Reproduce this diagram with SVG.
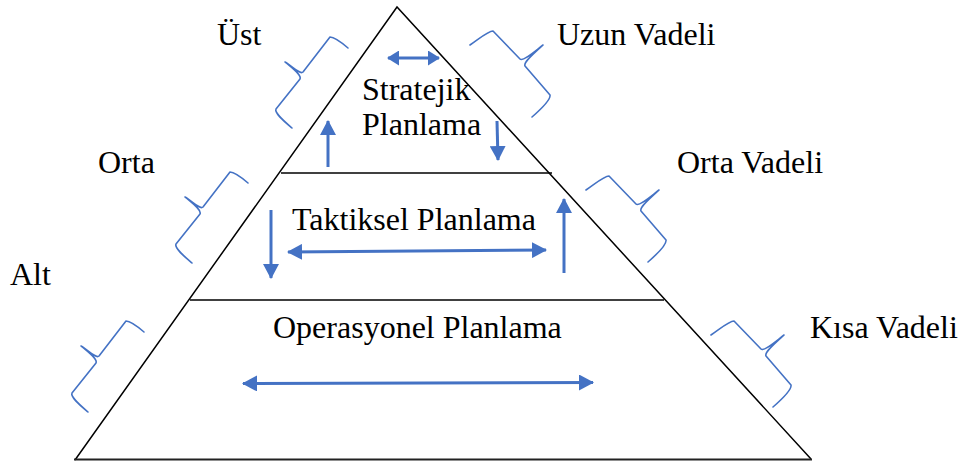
<svg xmlns="http://www.w3.org/2000/svg" width="965" height="464" viewBox="0 0 965 464">
  <style>
    .edge { fill: none; stroke: #000; stroke-width: 1.5; }
    .label { font-family: "Liberation Serif", "Times New Roman", serif; font-size: 32px; fill: #000; }
    .brace { fill: none; stroke: #4472C4; stroke-width: 1.6; stroke-linejoin: round; stroke-linecap: round; }
    .arrow { fill: none; stroke: #4472C4; stroke-width: 3; }
  </style>
  <defs>
    <marker id="head" viewBox="0 0 15 16" refX="14" refY="8" markerWidth="15" markerHeight="16" markerUnits="userSpaceOnUse" orient="auto-start-reverse">
      <path d="M0,0 L15,8 L0,16 Z" fill="#4472C4"/>
    </marker>
    <marker id="headSmall" viewBox="0 0 12 15" refX="11" refY="7.5" markerWidth="12" markerHeight="15" markerUnits="userSpaceOnUse" orient="auto-start-reverse">
      <path d="M0,0 L12,7.5 L0,15 Z" fill="#4472C4"/>
    </marker>
    <!-- curly brace opening toward the pyramid, origin at its tip -->
    <path id="braceLeft" d="M63,-14 C56,-20 50,-25 45,-25 L18,10 C15,13 7,4 0,0 C7,6 17,13 15,17 L-9,47 C-11,51 0,60 7,66"/>
    <path id="braceRight" d="M-73,0 C-64,-6 -55,-14 -50,-14 L-23,14 C-20,17 -8,6 0,0 C-7,7 -20,17 -18,21 L7,50 C8,55 -3,65 -11,72"/>
  </defs>

  <!-- pyramid outline and tier dividers -->
  <g id="pyramid">
    <path class="edge" d="M75,460 L397,7 L811,459"/>
    <line x1="74" y1="459.5" x2="812" y2="459.5" stroke="#222" stroke-width="2.2"/>
    <line class="edge" x1="281" y1="173" x2="552" y2="173"/>
    <line class="edge" x1="190" y1="300" x2="664" y2="300"/>
  </g>

  <g id="tier-strategic">
    <text class="label" x="362" y="100">Stratejik</text>
    <text class="label" x="362" y="135">Planlama</text>
  </g>
  <g id="tier-tactical">
    <text class="label" x="292" y="230">Taktiksel Planlama</text>
  </g>
  <g id="tier-operational">
    <text class="label" x="273" y="338">Operasyonel Planlama</text>
  </g>

  <g id="level-top"><text class="label" x="217" y="45">Üst</text></g>
  <g id="level-middle"><text class="label" x="98" y="173">Orta</text></g>
  <g id="level-bottom"><text class="label" x="10" y="285">Alt</text></g>
  <g id="term-long"><text class="label" x="557" y="45">Uzun Vadeli</text></g>
  <g id="term-mid"><text class="label" x="677" y="173">Orta Vadeli</text></g>
  <g id="term-short"><text class="label" x="810" y="338">Kısa Vadeli</text></g>

  <g id="braces">
    <use href="#braceLeft" class="brace" x="285" y="62"/>
    <use href="#braceLeft" class="brace" x="185" y="197"/>
    <use href="#braceLeft" class="brace" x="81" y="346"/>
    <use href="#braceRight" class="brace" x="543" y="45"/>
    <use href="#braceRight" class="brace" x="659" y="190"/>
    <use href="#braceRight" class="brace" x="784" y="335"/>
  </g>

  <g id="connectors">
    <line class="arrow" x1="388" y1="58" x2="439" y2="58" marker-start="url(#headSmall)" marker-end="url(#headSmall)"/>
    <line class="arrow" x1="328" y1="167" x2="328" y2="121" marker-end="url(#head)"/>
    <line class="arrow" x1="497" y1="121" x2="498" y2="160" marker-end="url(#head)"/>
    <line class="arrow" x1="271" y1="210" x2="271" y2="278" marker-end="url(#head)"/>
    <line class="arrow" x1="288" y1="252" x2="546" y2="250" marker-start="url(#head)" marker-end="url(#head)"/>
    <line class="arrow" x1="564" y1="273" x2="564" y2="199" marker-end="url(#head)"/>
    <line class="arrow" x1="243" y1="383.5" x2="593" y2="382.5" marker-start="url(#head)" marker-end="url(#head)"/>
  </g>
</svg>
